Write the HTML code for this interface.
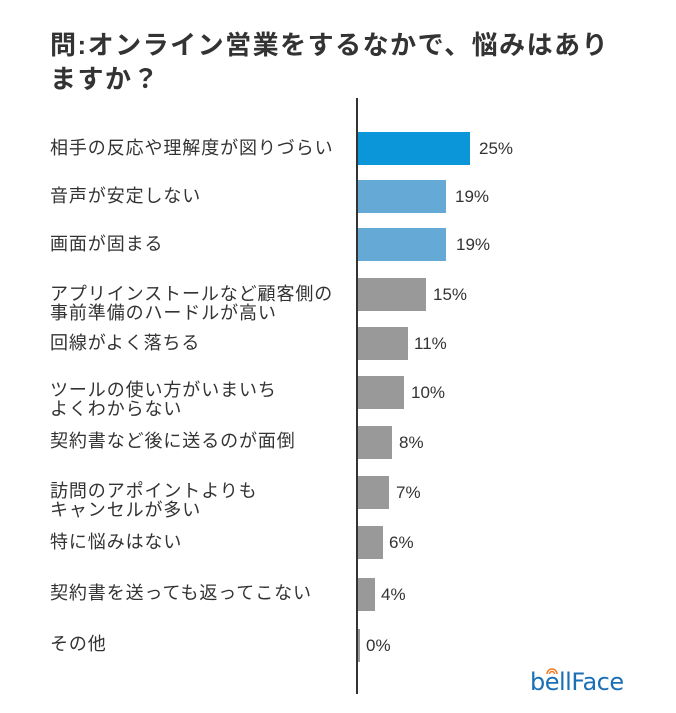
<!DOCTYPE html>
<html><head><meta charset="utf-8"><style>
body{margin:0;width:676px;height:713px;background:#fff;position:relative;font-family:"Liberation Sans","Noto Sans CJK JP",sans-serif;color:#333;overflow:hidden}
.t{position:absolute;left:50px;top:28px;font-size:26px;font-weight:bold;line-height:34px;color:#333;letter-spacing:1.5px}
.ax{position:absolute;left:356px;top:98px;width:2px;height:596px;background:#333}
.b{position:absolute;left:358px;height:33px}
.l{position:absolute;left:50px;font-size:18px;line-height:19px;color:#333;white-space:nowrap;letter-spacing:0.9px}
.v{position:absolute;font-size:17px;line-height:20px;color:#333}
.logo{position:absolute;left:530px;top:668px;font-size:24px;color:#1a6fb5;font-family:"DejaVu Sans",sans-serif;letter-spacing:-0.5px}
</style></head><body>
<div class="t">問:オンライン営業をするなかで、悩みはあり<br>ますか？</div>
<div class="ax"></div>

<div class="b" style="top:132px;width:112px;background:#0a96d8"></div>
<div class="b" style="top:180px;width:88px;background:#65a9d7"></div>
<div class="b" style="top:228px;width:88px;background:#65a9d7"></div>
<div class="b" style="top:278px;width:68px;background:#999"></div>
<div class="b" style="top:327px;width:50px;background:#999"></div>
<div class="b" style="top:376px;width:46px;background:#999"></div>
<div class="b" style="top:426px;width:34px;background:#999"></div>
<div class="b" style="top:476px;width:31px;background:#999"></div>
<div class="b" style="top:526px;width:25px;background:#999"></div>
<div class="b" style="top:578px;width:17px;background:#999"></div>
<div class="b" style="top:629px;width:2px;background:#999"></div>

<div class="l" style="top:139px">相手の反応や理解度が図りづらい</div>
<div class="l" style="top:187px">音声が安定しない</div>
<div class="l" style="top:235px">画面が固まる</div>
<div class="l" style="top:285px">アプリインストールなど顧客側の<br>事前準備のハードルが高い</div>
<div class="l" style="top:334px">回線がよく落ちる</div>
<div class="l" style="top:381px">ツールの使い方がいまいち<br>よくわからない</div>
<div class="l" style="top:432px">契約書など後に送るのが面倒</div>
<div class="l" style="top:482px">訪問のアポイントよりも<br>キャンセルが多い</div>
<div class="l" style="top:533px">特に悩みはない</div>
<div class="l" style="top:584px">契約書を送っても返ってこない</div>
<div class="l" style="top:635px">その他</div>

<div class="v" style="left:479px;top:139px">25%</div>
<div class="v" style="left:455px;top:187px">19%</div>
<div class="v" style="left:456px;top:235px">19%</div>
<div class="v" style="left:433px;top:285px">15%</div>
<div class="v" style="left:414px;top:334px">11%</div>
<div class="v" style="left:411px;top:383px">10%</div>
<div class="v" style="left:399px;top:433px">8%</div>
<div class="v" style="left:396px;top:483px">7%</div>
<div class="v" style="left:389px;top:533px">6%</div>
<div class="v" style="left:381px;top:585px">4%</div>
<div class="v" style="left:366px;top:636px">0%</div>

<div class="logo">bellFace</div>
<svg style="position:absolute;left:546px;top:667px" width="12" height="8"><path d="M1 7 A5 5 0 0 1 11 7" stroke="#f07a22" stroke-width="1.5" fill="none"/><path d="M3.5 7 A2.5 2.5 0 0 1 8.5 7" stroke="#f07a22" stroke-width="1.5" fill="none"/></svg>
</body></html>
